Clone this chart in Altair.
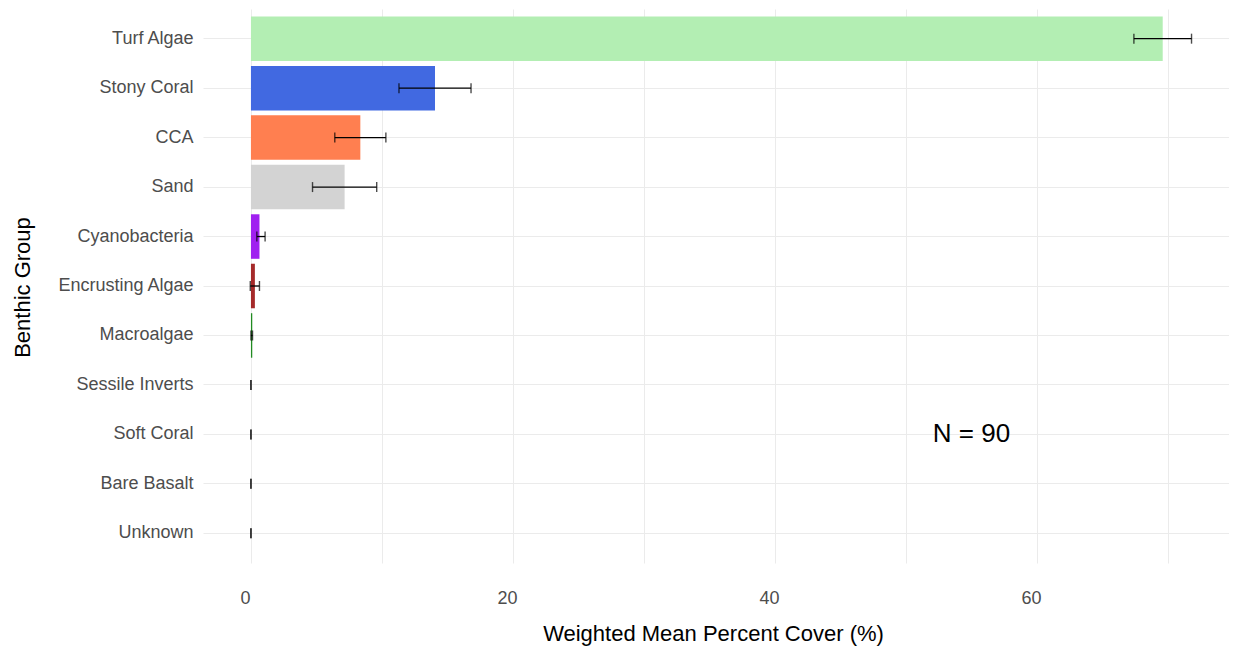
import altair as alt
import pandas as pd

groups = ["Turf Algae", "Stony Coral", "CCA", "Sand", "Cyanobacteria",
          "Encrusting Algae", "Macroalgae", "Sessile Inverts", "Soft Coral",
          "Bare Basalt", "Unknown"]
means = [69.6, 14.05, 8.35, 7.15, 0.65, 0.3, 0.1, 0.0, 0.0, 0.0, 0.0]
lower = [67.4, 11.3, 6.4, 4.7, 0.45, -0.05, 0.0, 0.0, 0.0, 0.0, 0.0]
upper = [71.8, 16.8, 10.3, 9.6, 1.08, 0.65, 0.12, 0.0, 0.0, 0.0, 0.0]
colors = ["#B3EEB3", "#4169E1", "#FF7F50", "#D3D3D3", "#A020F0",
          "#A52A2A", "#228B22", "#8B4513", "#FF69B4", "#696969", "#BEBEBE"]
x_ticks = [0, 10, 20, 30, 40, 50, 60, 70]
note_text = ["N = 90"]
note_x = [55]
note_y = ["Soft Coral"]

df = pd.DataFrame({"group": groups, "mean": means, "lower": lower,
                   "upper": upper, "color": colors})
note_df = pd.DataFrame({"text": note_text, "x": note_x, "y": note_y})

FONT = "Liberation Sans"

x_scale = alt.Scale(domain=[-3.66, 74.66], nice=False, zero=False)
y_scale = alt.Scale(domain=groups, paddingInner=0.1, paddingOuter=0.15)

x_axis = alt.Axis(values=x_ticks,
                  labelExpr="datum.value % 20 == 0 ? datum.label : ''",
                  grid=True, gridColor="#EBEBEB", gridWidth=1,
                  domain=False, ticks=False,
                  labelFont=FONT, labelFontSize=18, labelColor="#4D4D4D",
                  labelPadding=26, labelOffset=-6,
                  title="Weighted Mean Percent Cover (%)",
                  titleFont=FONT, titleFontSize=22, titleFontWeight="normal",
                  titleColor="black", titleX=510, titleY=70,
                  titleBaseline="middle", titleAlign="center")
y_axis = alt.Axis(grid=True, gridColor="#EBEBEB", gridWidth=1,
                  bandPosition=0.5, domain=False, ticks=False,
                  labelFont=FONT, labelFontSize=18, labelColor="#4D4D4D",
                  labelPadding=10,
                  title="Benthic Group", titleFont=FONT, titleFontSize=22,
                  titleFontWeight="normal", titleColor="black",
                  titleX=-181, titleY=278, titleAngle=270,
                  titleBaseline="middle", titleAlign="center")

base = alt.Chart(df)

bars = base.mark_bar().encode(
    x=alt.X("mean:Q", scale=x_scale, axis=x_axis),
    x2=alt.X2(datum=0),
    y=alt.Y("group:N", scale=y_scale, axis=y_axis, sort=groups),
    color=alt.Color("color:N", scale=None),
)

rules = base.mark_rule(color="black", strokeWidth=1.3).encode(
    x=alt.X("lower:Q", scale=x_scale),
    x2="upper:Q",
    y=alt.Y("group:N", scale=y_scale, sort=groups),
)

caps_lo = base.mark_tick(color="black", size=10, thickness=1.4).encode(
    x=alt.X("lower:Q", scale=x_scale),
    y=alt.Y("group:N", scale=y_scale, sort=groups),
)
caps_hi = base.mark_tick(color="black", size=10, thickness=1.4).encode(
    x=alt.X("upper:Q", scale=x_scale),
    y=alt.Y("group:N", scale=y_scale, sort=groups),
)

note = alt.Chart(note_df).mark_text(font=FONT, fontSize=26, color="black",
                                    align="center", baseline="middle").encode(
    x=alt.X("x:Q", scale=x_scale),
    y=alt.Y("y:N", scale=y_scale, sort=groups),
    text="text:N",
)

chart = alt.layer(bars, rules, caps_lo, caps_hi, note).properties(
    width=1026, height=554,
    padding={"left": 195, "top": 1, "right": 0, "bottom": 85},
    autosize=alt.AutoSizeParams(type="none"),
    background="white",
).configure_view(stroke=None)

chart.save("out.html", embed_options={"renderer": "svg", "actions": False})
